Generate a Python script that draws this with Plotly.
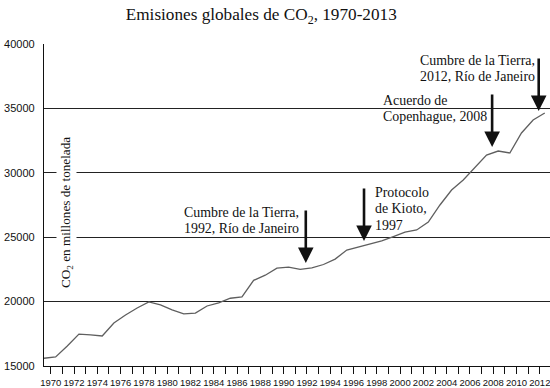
import plotly.graph_objects as go

years = list(range(1970, 2014))
emissions = [15600, 15700, 16550, 17480, 17420, 17330, 18340, 18960, 19500, 19970,
             19740, 19350, 19040, 19110, 19660, 19900, 20260, 20360, 21650, 22050,
             22600, 22680, 22500, 22620, 22880, 23300, 24000, 24240, 24470, 24720,
             25050, 25400, 25560, 26180, 27500, 28660, 29440, 30370, 31380, 31690,
             31540, 33090, 34100, 34640]
tick_years = list(range(1970, 2013, 2))
minor_years = list(range(1970, 2013))
y_ticks = [15000, 20000, 25000, 30000, 35000, 40000]

event_lines = [["Cumbre de la Tierra,", "1992, Río de Janeiro"],
               ["Protocolo", "de Kioto,", "1997"],
               ["Acuerdo de", "Copenhague, 2008"],
               ["Cumbre de la Tierra,", "2012, Río de Janeiro"]]
event_years = [1992, 1997, 2008, 2012]

TICK_SHIFT = 0.58  # ticks drawn slightly right of the data points in the original

# pixel helpers for annotation placement
L, T, B, PXY = 44, 44, 366, 11.65
def xd(px):
    return 1970 + (px - L) / PXY
def yd(py):
    return 15000 + (B - py) * 25000 / (B - T)

fig = go.Figure()
fig.add_trace(go.Scatter(x=years, y=emissions, mode="lines",
                         line=dict(color="#5f5f5f", width=1.3), hoverinfo="skip"))

serif = "Liberation Serif"
sans = "Liberation Sans"

annotations = []
annotations.append(dict(text="CO<sub>2</sub> en millones de tonelada", xref="x", yref="y",
                        x=xd(66), y=yd(212), textangle=-90, showarrow=False,
                        font=dict(family=serif, size=13.2, color="#111"),
                        bgcolor="white", borderpad=1, xanchor="center", yanchor="middle"))
text_pos = [(181.7, [212.7, 228.5]), (373.3, [192, 208.5, 225]),
            (380.7, [100.7, 116.7]), (418.3, [60, 76.7])]
for lines, (px, pys) in zip(event_lines, text_pos):
    for line, py in zip(lines, pys):
        annotations.append(dict(text=line, xref="x", yref="y", x=xd(px), y=yd(py),
                                xanchor="left", yanchor="middle", align="left", showarrow=False,
                                font=dict(family=serif, size=13.9, color="#111")))
arrow_y = [(209, 263), (187, 241), (93, 147), (57, 111)]
for yr, (ty, hy) in zip(event_years, arrow_y):
    annotations.append(dict(text="", xref="x", yref="y", axref="x", ayref="y",
                            x=yr + TICK_SHIFT - 0.1, y=yd(hy), ax=yr + TICK_SHIFT - 0.1, ay=yd(ty),
                            showarrow=True, arrowhead=2, arrowsize=1.2, arrowwidth=2.6,
                            arrowcolor="#111"))

fig.update_layout(
    width=550, height=388,
    margin=dict(l=L, r=0, t=T, b=388 - B, autoexpand=False),
    paper_bgcolor="white", plot_bgcolor="white",
    showlegend=False,
    title=dict(text="Emisiones globales de CO<sub>2</sub>, 1970-2013", x=0.475, xanchor="center",
               y=1 - 14 / 388, yanchor="middle",
               font=dict(family=serif, size=17.2, color="#111")),
    annotations=annotations,
)
fig.update_xaxes(range=[1970, 2013.45], tickvals=[y + TICK_SHIFT for y in tick_years],
                 ticktext=[str(y) for y in tick_years], tickangle=0, automargin=False,
                 ticklabeloverflow="allow",
                 ticks="outside", ticklen=7,
                 tickcolor="#111", tickwidth=1, showgrid=False, zeroline=False,
                 showline=True, linecolor="#111", linewidth=1.3,
                 tickfont=dict(family=sans, size=9.5, color="#111"),
                 minor=dict(tickvals=[y + TICK_SHIFT for y in minor_years], ticks="outside",
                            ticklen=7, tickcolor="#111", tickwidth=1, showgrid=False))
fig.update_yaxes(range=[15000, 40000], tickvals=y_ticks, ticktext=[str(v) for v in y_ticks],
                 automargin=False, ticks="", showgrid=True,
                 gridcolor="#222", gridwidth=1.1, zeroline=False, showline=True,
                 linecolor="#111", linewidth=1.3, ticklabelstandoff=6,
                 tickfont=dict(family=sans, size=11, color="#111"))

fig.write_html("out.html", config={"displayModeBar": False},
               post_script="document.body.style.margin='0';document.body.style.overflow='hidden';")
